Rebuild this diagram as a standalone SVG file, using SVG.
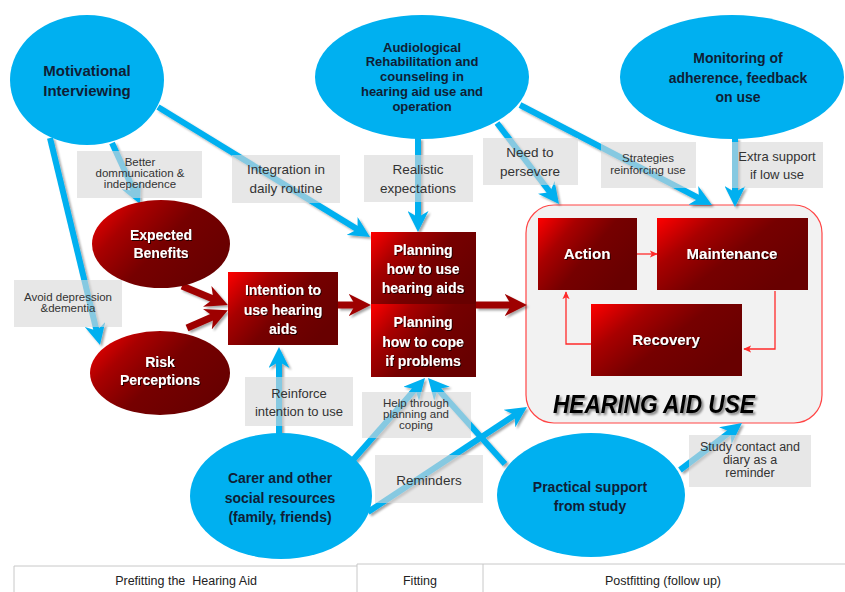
<svg xmlns="http://www.w3.org/2000/svg" width="845" height="592" viewBox="0 0 845 592">
<defs>
<linearGradient id="rg" x1="0" y1="0" x2="1" y2="0.6">
<stop offset="0" stop-color="#FF0000"/>
<stop offset="0.3" stop-color="#A80000"/>
<stop offset="0.6" stop-color="#760000"/>
<stop offset="1" stop-color="#680000"/>
</linearGradient>
<filter id="ash" x="-20%" y="-20%" width="140%" height="140%">
<feDropShadow dx="2" dy="2" stdDeviation="1" flood-color="#000" flood-opacity="0.35"/>
</filter>
<filter id="tsh" x="-10%" y="-20%" width="120%" height="140%">
<feDropShadow dx="1" dy="1" stdDeviation="0.7" flood-color="#000" flood-opacity="0.75"/>
</filter>
<filter id="hsh" x="-10%" y="-20%" width="120%" height="150%">
<feDropShadow dx="2" dy="2" stdDeviation="1.2" flood-color="#000" flood-opacity="0.45"/>
</filter>
<marker id="ba" viewBox="0 0 10 10" refX="3.5" refY="5" markerWidth="3.5" markerHeight="3.5" orient="auto" markerUnits="strokeWidth">
<path d="M0,0 L10,5 L0,10 L3,5 z" fill="#00B0F0"/>
</marker>
<marker id="ra" viewBox="0 0 10 10" refX="3.5" refY="5" markerWidth="3.2" markerHeight="3.2" orient="auto" markerUnits="strokeWidth">
<path d="M0,0 L10,5 L0,10 L3,5 z" fill="#9E0606"/>
</marker>
<marker id="ta" viewBox="0 0 10 10" refX="9" refY="5" markerWidth="8" markerHeight="8" orient="auto" markerUnits="userSpaceOnUse">
<path d="M0,0.5 L10,5 L0,9.5 L2.5,5 z" fill="#FF2A2A"/>
</marker>
<style>
.blue{fill:#00B0F0}
.bt{font-family:"Liberation Sans",Arial,sans-serif;font-weight:bold;fill:#0F1E36;text-anchor:middle}
.red{fill:url(#rg)}
.wt{font-family:"Liberation Sans",Arial,sans-serif;font-weight:bold;fill:#fff;text-anchor:middle;font-size:14px}
.bc{fill:none;stroke:#00B0F0;stroke-width:6;marker-end:url(#ba)}
.rc{fill:none;stroke:#9E0606;stroke-width:7;marker-end:url(#ra)}
.tc{fill:none;stroke:#FF2A2A;stroke-width:1.3;marker-end:url(#ta)}
.lb{fill:#D9D9D9;fill-opacity:0.62}
.lt{font-family:"Liberation Sans",Arial,sans-serif;fill:#333;text-anchor:middle}
.tb{fill:none;stroke:#C8C8C8;stroke-width:1}
.tt{font-family:"Liberation Sans",Arial,sans-serif;fill:#222;text-anchor:middle;font-size:12.5px;white-space:pre}
</style>
</defs>
<rect width="845" height="592" fill="#fff"/>

<g id="hearing-aid-use">
<rect x="526" y="205" width="296" height="218" rx="28" fill="#F2F2F2" stroke="#FF4545" stroke-width="1.2"/>
<text x="553" y="413" font-family="Liberation Sans,Arial,sans-serif" font-weight="bold" font-style="italic" font-size="26" textLength="202" lengthAdjust="spacingAndGlyphs" fill="#000" filter="url(#hsh)">HEARING AID USE</text>
</g>

<g id="connectors">
<g filter="url(#ash)">
<line class="bc" x1="50" y1="138" x2="96.8" y2="331.7"/>
<line class="bc" x1="112" y1="143" x2="134.3" y2="191.6"/>
<line class="bc" x1="158" y1="107" x2="358.4" y2="229.9"/>
<line class="bc" x1="418" y1="138" x2="418" y2="218.4"/>
<line class="bc" x1="497" y1="123" x2="550.7" y2="193.2"/>
<line class="bc" x1="520" y1="105" x2="699.9" y2="198.7"/>
<line class="bc" x1="735" y1="138" x2="735" y2="193.4"/>
<line class="bc" x1="279" y1="436" x2="279" y2="360.7"/>
<line class="bc" x1="353" y1="460" x2="416" y2="388.3"/>
<line class="bc" x1="368" y1="512" x2="515.6" y2="414.5"/>
<line class="bc" x1="505" y1="464" x2="437.1" y2="388.2"/>
<line class="bc" x1="680" y1="470" x2="731.1" y2="431.2"/>
<line class="rc" x1="182" y1="286" x2="214.4" y2="299.4"/>
<line class="rc" x1="187" y1="328" x2="214.5" y2="316"/>
<line class="rc" x1="338" y1="305" x2="356.4" y2="305"/>
<line class="rc" x1="476" y1="305" x2="512.4" y2="305"/>
</g>
<path class="tc" d="M637,254 L657,254"/>
<path class="tc" d="M775,291 L775,349 L744,349"/>
<path class="tc" d="M591,344 L566,344 L566,292"/>
</g>

<g id="labels">
<rect class="lb" x="77" y="151" width="125" height="47"/>
<text class="lt" font-size="11.5"><tspan x="140" y="166">Better</tspan><tspan x="140" y="177">dommunication &amp;</tspan><tspan x="140" y="188">independence</tspan></text>
<rect class="lb" x="232" y="155" width="108" height="48"/>
<text class="lt" font-size="13.5"><tspan x="286" y="174">Integration in</tspan><tspan x="286" y="193">daily routine</tspan></text>
<rect class="lb" x="364" y="155" width="109" height="47"/>
<text class="lt" font-size="13.5"><tspan x="418" y="174">Realistic</tspan><tspan x="418" y="193">expectations</tspan></text>
<rect class="lb" x="483" y="138" width="95" height="47"/>
<text class="lt" font-size="13.5"><tspan x="530" y="157">Need to</tspan><tspan x="530" y="176">persevere</tspan></text>
<rect class="lb" x="601" y="142" width="95" height="46"/>
<text class="lt" font-size="11.5"><tspan x="648" y="162">Strategies</tspan><tspan x="648" y="174">reinforcing use</tspan></text>
<rect class="lb" x="732" y="142" width="91" height="46"/>
<text class="lt" font-size="13"><tspan x="777" y="161">Extra support</tspan><tspan x="777" y="179">if low use</tspan></text>
<rect class="lb" x="14" y="280" width="108" height="47"/>
<text class="lt" font-size="11.5"><tspan x="68" y="301">Avoid depression</tspan><tspan x="68" y="312">&amp;dementia</tspan></text>
<rect class="lb" x="245" y="377" width="108" height="49"/>
<text class="lt" font-size="13"><tspan x="299" y="398">Reinforce</tspan><tspan x="299" y="416">intention to use</tspan></text>
<rect class="lb" x="362" y="392" width="109" height="46"/>
<text class="lt" font-size="11.5"><tspan x="416" y="407">Help through</tspan><tspan x="416" y="418">planning and</tspan><tspan x="416" y="429">coping</tspan></text>
<rect class="lb" x="375" y="455" width="108" height="48"/>
<text class="lt" font-size="13.5" x="429" y="485">Reminders</text>
<rect class="lb" x="689" y="435" width="122" height="52"/>
<text class="lt" font-size="12.5"><tspan x="750" y="451">Study contact and</tspan><tspan x="750" y="464">diary as a</tspan><tspan x="750" y="477">reminder</tspan></text>
</g>

<g id="motivational-interviewing">
<ellipse class="blue" cx="87" cy="80" rx="77" ry="65"/>
<text class="bt" font-size="15"><tspan x="87" y="76">Motivational</tspan><tspan x="87" y="96">Interviewing</tspan></text>
</g>
<g id="audiological-rehabilitation">
<ellipse class="blue" cx="422" cy="77" rx="107" ry="62"/>
<text class="bt" font-size="13"><tspan x="422" y="52">Audiological</tspan><tspan x="422" y="66">Rehabilitation  and</tspan><tspan x="422" y="81">counseling  in</tspan><tspan x="422" y="96">hearing aid use and</tspan><tspan x="422" y="111">operation</tspan></text>
</g>
<g id="monitoring">
<ellipse class="blue" cx="732" cy="77" rx="112" ry="62"/>
<text class="bt" font-size="14"><tspan x="738" y="63">Monitoring of</tspan><tspan x="738" y="83">adherence, feedback</tspan><tspan x="738" y="102">on use</tspan></text>
</g>
<g id="carer">
<ellipse class="blue" cx="281" cy="496" rx="91" ry="63"/>
<text class="bt" font-size="14"><tspan x="280" y="483">Carer and other</tspan><tspan x="280" y="503">social resources</tspan><tspan x="280" y="522">(family, friends)</tspan></text>
</g>
<g id="practical-support">
<ellipse class="blue" cx="591" cy="495" rx="94" ry="62"/>
<text class="bt" font-size="14"><tspan x="590" y="492">Practical support</tspan><tspan x="590" y="511">from study</tspan></text>
</g>

<g id="expected-benefits">
<ellipse class="red" cx="161" cy="244" rx="69" ry="44"/>
<text class="wt" filter="url(#tsh)"><tspan x="161" y="240">Expected</tspan><tspan x="161" y="258">Benefits</tspan></text>
</g>
<g id="risk-perceptions">
<ellipse class="red" cx="160" cy="373" rx="70" ry="42"/>
<text class="wt" filter="url(#tsh)"><tspan x="160" y="367">Risk</tspan><tspan x="160" y="385">Perceptions</tspan></text>
</g>
<g id="intention">
<rect class="red" x="228" y="272" width="110" height="73"/>
<text class="wt" filter="url(#tsh)"><tspan x="283" y="295">Intention to</tspan><tspan x="283" y="315">use hearing</tspan><tspan x="283" y="334">aids</tspan></text>
</g>
<g id="planning-use">
<rect class="red" x="371" y="232" width="105" height="72"/>
<text class="wt" filter="url(#tsh)"><tspan x="423" y="255">Planning</tspan><tspan x="423" y="274">how to use</tspan><tspan x="423" y="293">hearing aids</tspan></text>
</g>
<g id="planning-cope">
<rect class="red" x="371" y="304" width="105" height="73"/>
<text class="wt" filter="url(#tsh)"><tspan x="423" y="327">Planning</tspan><tspan x="423" y="347">how to cope</tspan><tspan x="423" y="366">if problems</tspan></text>
</g>
<g id="action">
<rect class="red" x="538" y="218" width="99" height="72"/>
<text class="wt" x="587" y="259" filter="url(#tsh)" style="font-size:15px">Action</text>
</g>
<g id="maintenance">
<rect class="red" x="657" y="218" width="151" height="72"/>
<text class="wt" x="732" y="259" filter="url(#tsh)" style="font-size:15px">Maintenance</text>
</g>
<g id="recovery">
<rect class="red" x="591" y="304" width="151" height="72"/>
<text class="wt" x="666" y="345" filter="url(#tsh)" style="font-size:15px">Recovery</text>
</g>

<g id="phase-table">
<path class="tb" d="M14,566 L357,566 M357,564 L845,564 M14,566 L14,592 M357,564 L357,592 M483,564 L483,592"/>
<text class="tt" x="186" y="585">Prefitting the  Hearing Aid</text>
<text class="tt" x="420" y="585">Fitting</text>
<text class="tt" x="663" y="585">Postfitting (follow up)</text>
</g>
</svg>
